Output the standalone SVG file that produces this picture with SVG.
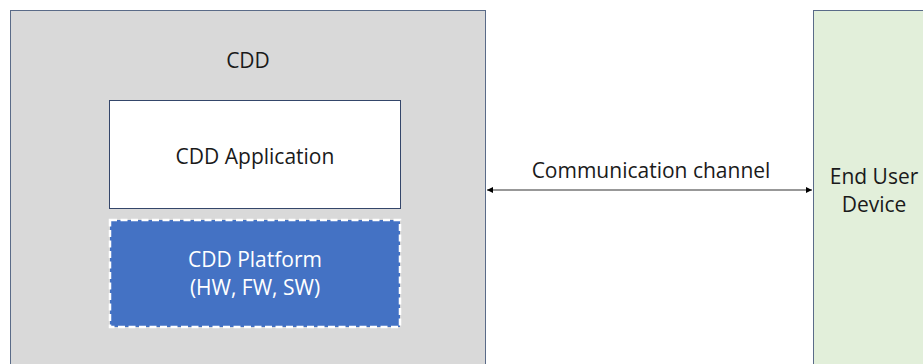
<svg xmlns="http://www.w3.org/2000/svg" width="923" height="364" viewBox="0 0 923 364">
<style>
text{font-family:"Open Sans","Liberation Sans",sans-serif;font-size:21px;fill:#1a1a1a;text-anchor:middle}
.w{fill:#ffffff}
</style>
<defs>
<marker id="ah" viewBox="0 0 10 10" refX="10" refY="5" markerWidth="6" markerHeight="6" orient="auto-start-reverse" markerUnits="userSpaceOnUse">
<path d="M0,0 L10,5 L0,10 z" fill="#000"/>
</marker>
</defs>
<rect width="923" height="364" fill="#fff"/>
<g id="cdd">
<rect x="10.5" y="10.5" width="475" height="370" fill="#d9d9d9" stroke="#5a6b88" stroke-width="1"/>
<text x="248" y="68">CDD</text>
</g>
<g id="cdd-application">
<rect x="109.5" y="100.5" width="291" height="108" fill="#ffffff" stroke="#34466a" stroke-width="1"/>
<text x="255" y="164">CDD Application</text>
</g>
<g id="cdd-platform">
<rect x="110" y="220" width="290" height="107" fill="#4472c4" stroke="#ffffff" stroke-width="2.5" stroke-dasharray="7,3.5"/>
<text class="w" x="255" y="267">CDD Platform</text>
<text class="w" x="255" y="295">(HW, FW, SW)</text>
</g>
<g id="end-user-device">
<rect x="813.5" y="10.5" width="130" height="370" fill="#e2efda" stroke="#5a6b88" stroke-width="1"/>
<text x="874" y="184">End User</text>
<text x="874" y="212">Device</text>
</g>
<g id="connectors">
<line x1="487" y1="190" x2="812" y2="190" stroke="#333" stroke-width="1.2" marker-start="url(#ah)" marker-end="url(#ah)"/>
<text x="651" y="178">Communication channel</text>
</g>
</svg>
